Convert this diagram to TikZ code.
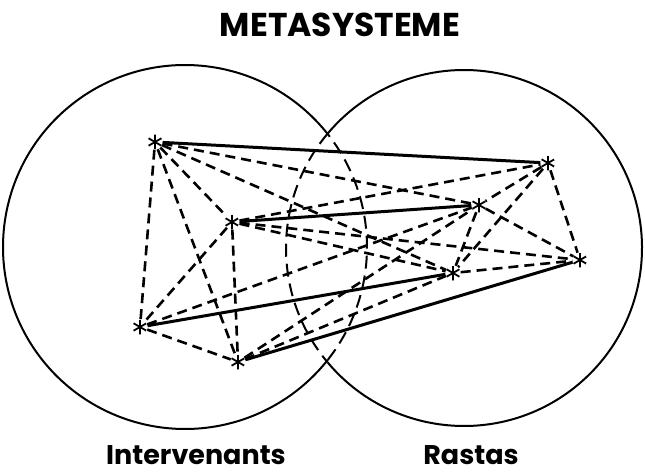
\documentclass[tikz,border=0pt]{standalone}
\usepackage{fontspec}
\setmainfont{Poppins}
\begin{document}
\begin{tikzpicture}[x=1pt,y=1pt,
  astn/.style={circle,inner sep=0pt,minimum size=15pt,
    path picture={
      \draw[line width=1.8pt] (path picture bounding box.center) ++(90:7.5pt) -- ++(270:15pt);
      \draw[line width=1.8pt] (path picture bounding box.center) ++(30:7.5pt) -- ++(210:15pt);
      \draw[line width=1.8pt] (path picture bounding box.center) ++(150:7.5pt) -- ++(330:15pt);
    }},
  dl/.style={line width=2.6pt,dash pattern=on 10pt off 6pt},
  sl/.style={line width=3pt},
  circ/.style={line width=2pt},
  lens/.style={line width=2pt,dash pattern=on 13pt off 7pt},
  lab/.style={font=\fontsize{27}{28}\selectfont\bfseries,inner sep=0pt,anchor=base}
]
\useasboundingbox (0,0) rectangle (645,-476);
% circles
\coordinate (L) at (185,-247);
\coordinate (R) at (464,-248);
\draw[circ] ([shift={(38.3:182)}]L) arc[start angle=38.3,end angle=321.7,radius=182];
\draw[lens] ([shift={(-38.3:182)}]L) arc[start angle=-38.3,end angle=38.3,radius=182];
\draw[circ] ([shift={(220:178)}]R) arc[start angle=220,end angle=500,radius=178];
\draw[lens] ([shift={(140:178)}]R) arc[start angle=140,end angle=220,radius=178];
% nodes
\node[astn] (A) at (155,-142) {};
\node[astn] (B) at (232,-222) {};
\node[astn] (C) at (140,-327) {};
\node[astn] (D) at (238,-362) {};
\node[astn] (E) at (548,-163) {};
\node[astn] (F) at (479,-205) {};
\node[astn] (G) at (453,-273) {};
\node[astn] (H) at (580,-260) {};
% solid edges
\draw[sl] (A) -- (E);
\draw[sl] (B) -- (F);
\draw[sl] (C) -- (G);
\draw[sl] (D) -- (H);
% dashed edges
\foreach \u/\v in {A/B,A/C,A/D,B/C,B/D,C/D,E/F,E/G,E/H,F/G,F/H,G/H,
                   A/F,A/G,B/E,B/G,B/H,C/F,D/F,D/G}
  \draw[dl] (\u) -- (\v);
% labels
\node[lab,font=\fontsize{33}{34}\selectfont\bfseries] (T) at (340,-37) {METASYSTEME};
\node[lab] (I) at (196,-464) {Intervenants};
\node[lab] (Ra) at (471,-464) {Rastas};
\end{tikzpicture}
\end{document}
